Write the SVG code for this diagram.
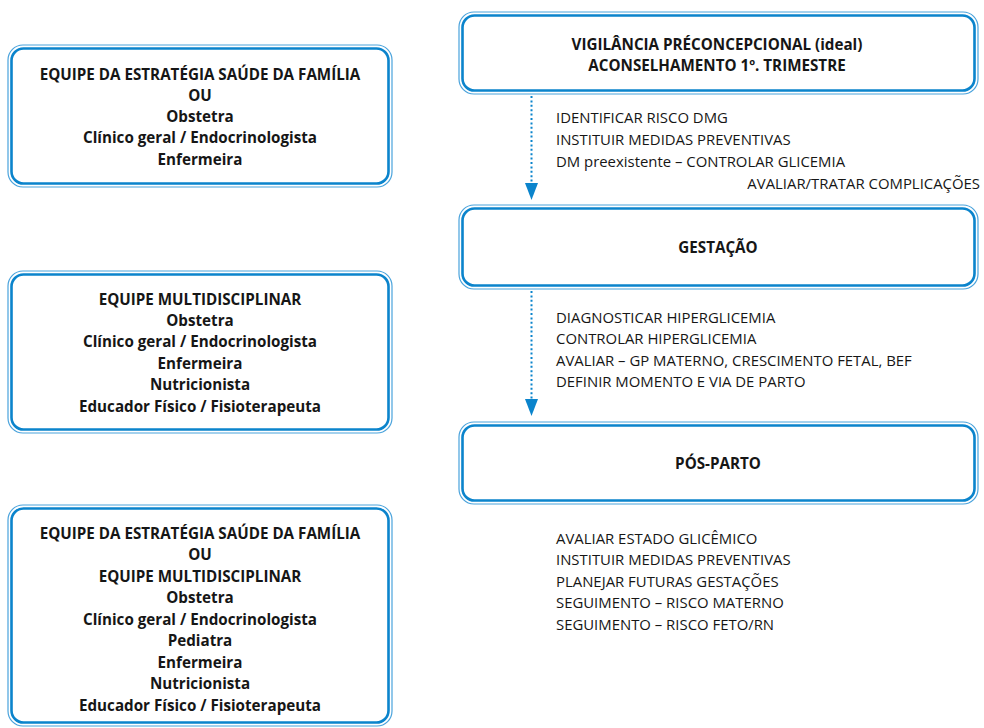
<svg xmlns="http://www.w3.org/2000/svg" width="984" height="728" viewBox="0 0 984 728">
<style>
.bg{fill:#ffffff}
.outer{fill:none;stroke:#4aa3dc;stroke-width:1.2}
.inner{fill:#ffffff;stroke:#0b84cc;stroke-width:2.6}
.b{font-family:"Open Sans","Liberation Sans",sans-serif;font-weight:bold;font-size:15.2px;fill:#161616;text-anchor:middle}
.r{font-family:"Open Sans","Liberation Sans",sans-serif;font-size:14.9px;fill:#161616}
.dot{stroke:#0b84cc;stroke-width:2;stroke-dasharray:2 2.4;fill:none}
.head{fill:#0b84cc}
</style>
<rect class="bg" x="0" y="0" width="984" height="728"/>

<g id="equipe-esf">
<rect class="outer" x="8" y="45" width="384" height="142" rx="15"/>
<rect class="inner" x="11.5" y="48.5" width="377" height="135" rx="12"/>
<text class="b" x="200" y="79.5">EQUIPE DA ESTRATÉGIA SAÚDE DA FAMÍLIA</text>
<text class="b" x="200" y="100.8">OU</text>
<text class="b" x="200" y="122.1">Obstetra</text>
<text class="b" x="200" y="143.4">Clínico geral / Endocrinologista</text>
<text class="b" x="200" y="164.7">Enfermeira</text>
</g>

<g id="equipe-multi">
<rect class="outer" x="8" y="271" width="384" height="162" rx="15"/>
<rect class="inner" x="11.5" y="274.5" width="377" height="155" rx="12"/>
<text class="b" x="200" y="304.5">EQUIPE MULTIDISCIPLINAR</text>
<text class="b" x="200" y="325.9">Obstetra</text>
<text class="b" x="200" y="347.3">Clínico geral / Endocrinologista</text>
<text class="b" x="200" y="368.7">Enfermeira</text>
<text class="b" x="200" y="390.1">Nutricionista</text>
<text class="b" x="200" y="411.5">Educador Físico / Fisioterapeuta</text>
</g>

<g id="equipe-esf-multi">
<rect class="outer" x="8" y="505" width="384" height="221" rx="15"/>
<rect class="inner" x="11.5" y="508.5" width="377" height="214" rx="12"/>
<text class="b" x="200" y="538.5">EQUIPE DA ESTRATÉGIA SAÚDE DA FAMÍLIA</text>
<text class="b" x="200" y="560">OU</text>
<text class="b" x="200" y="581.5">EQUIPE MULTIDISCIPLINAR</text>
<text class="b" x="200" y="603">Obstetra</text>
<text class="b" x="200" y="624.5">Clínico geral / Endocrinologista</text>
<text class="b" x="200" y="646">Pediatra</text>
<text class="b" x="200" y="667.5">Enfermeira</text>
<text class="b" x="200" y="689">Nutricionista</text>
<text class="b" x="200" y="710.5">Educador Físico / Fisioterapeuta</text>
</g>

<g id="vigilancia">
<rect class="outer" x="459" y="12" width="519" height="82" rx="15"/>
<rect class="inner" x="462.5" y="15.5" width="512" height="75" rx="12"/>
<text class="b" x="717" y="49.5">VIGILÂNCIA PRÉCONCEPCIONAL (ideal)</text>
<text class="b" x="717" y="70.5">ACONSELHAMENTO 1º. TRIMESTRE</text>
</g>

<g id="gestacao">
<rect class="outer" x="459" y="205" width="519" height="84" rx="15"/>
<rect class="inner" x="462.5" y="208.5" width="512" height="77" rx="12"/>
<text class="b" x="718" y="252.5">GESTAÇÃO</text>
</g>

<g id="pos-parto">
<rect class="outer" x="459" y="422" width="519" height="82" rx="15"/>
<rect class="inner" x="462.5" y="425.5" width="512" height="75" rx="12"/>
<text class="b" x="718" y="468.5">PÓS-PARTO</text>
</g>

<g id="connectors">
<line class="dot" x1="531.5" y1="96" x2="531.5" y2="184"/>
<polygon class="head" points="525,183 538,183 531.5,200"/>
<line class="dot" x1="531.5" y1="291" x2="531.5" y2="400"/>
<polygon class="head" points="525,399 538,399 531.5,416"/>
</g>

<g id="labels-vigilancia">
<text class="r" x="556" y="122.5">IDENTIFICAR RISCO DMG</text>
<text class="r" x="556" y="144.5">INSTITUIR MEDIDAS PREVENTIVAS</text>
<text class="r" x="556" y="166.5">DM preexistente – CONTROLAR GLICEMIA</text>
<text class="r" x="980" y="188.5" text-anchor="end">AVALIAR/TRATAR COMPLICAÇÕES</text>
</g>

<g id="labels-gestacao">
<text class="r" x="556" y="322.5">DIAGNOSTICAR HIPERGLICEMIA</text>
<text class="r" x="556" y="344">CONTROLAR HIPERGLICEMIA</text>
<text class="r" x="556" y="365.5">AVALIAR – GP MATERNO, CRESCIMENTO FETAL, BEF</text>
<text class="r" x="556" y="387">DEFINIR MOMENTO E VIA DE PARTO</text>
</g>

<g id="labels-pos-parto">
<text class="r" x="556" y="543.5">AVALIAR ESTADO GLICÊMICO</text>
<text class="r" x="556" y="565">INSTITUIR MEDIDAS PREVENTIVAS</text>
<text class="r" x="556" y="586.5">PLANEJAR FUTURAS GESTAÇÕES</text>
<text class="r" x="556" y="608">SEGUIMENTO – RISCO MATERNO</text>
<text class="r" x="556" y="629.5">SEGUIMENTO – RISCO FETO/RN</text>
</g>
</svg>
